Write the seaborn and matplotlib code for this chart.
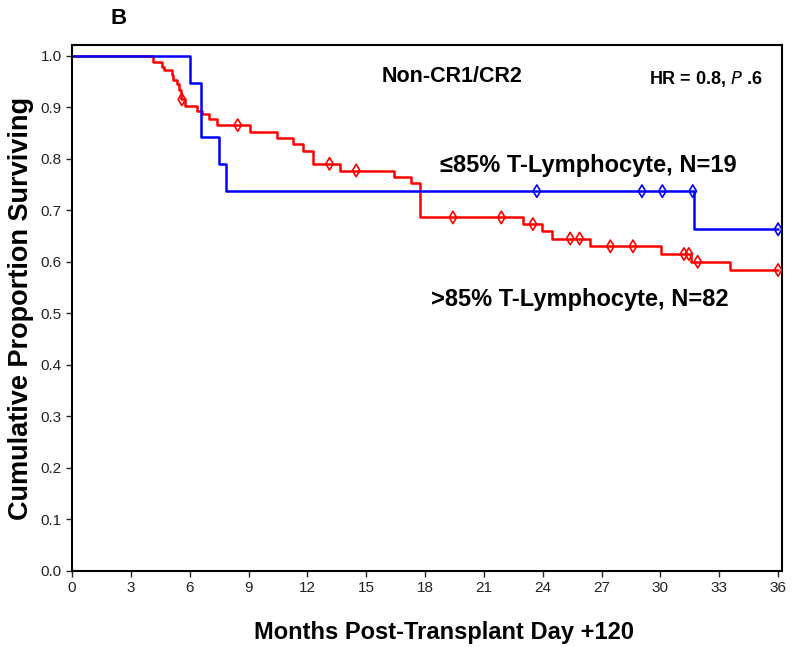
import pandas as pd
import matplotlib
matplotlib.use("Agg")
import matplotlib.pyplot as plt
import seaborn as sns
import numpy as np

sns.set_style("white")
plt.rcParams['font.family'] = ['Liberation Sans', 'DejaVu Sans']
plt.rcParams['text.color'] = 'black'
plt.rcParams['axes.labelcolor'] = 'black'

# Kaplan-Meier curves
# <=85% T-Lymphocyte (blue), N=19
blue_t = [0, 6.0, 6.57, 7.5, 7.86, 31.7, 36]
blue_s = [1.0, 0.947, 0.842, 0.789, 0.737, 0.663, 0.663]
blue_cens_t = [23.7, 29.06, 30.1, 31.65, 36]
blue_cens_s = [0.737, 0.737, 0.737, 0.737, 0.663]

# >85% T-Lymphocyte (red), N=82
red_t = [0, 4.15, 4.57, 4.69, 5.08, 5.17, 5.37, 5.48, 5.55, 5.77, 6.39, 6.62,
         7.0, 7.38, 9.08, 10.44, 11.26, 11.77, 12.31, 13.64, 16.43, 17.28,
         17.76, 23.0, 23.96, 24.47, 26.43, 30.03, 31.55, 33.55, 36]
red_s = [1.0, 0.988, 0.978, 0.972, 0.963, 0.952, 0.944, 0.934, 0.915, 0.903,
         0.893, 0.887, 0.877, 0.865, 0.852, 0.840, 0.828, 0.815, 0.790, 0.777,
         0.764, 0.753, 0.686, 0.673, 0.660, 0.645, 0.630, 0.615, 0.600, 0.584,
         0.584]
red_cens_t = [5.6, 8.45, 13.13, 14.49, 19.42, 21.89, 23.5, 25.4, 25.88,
              27.45, 28.6, 31.2, 31.45, 31.9, 36]
red_cens_s = [0.915, 0.865, 0.790, 0.777, 0.686, 0.686, 0.673, 0.645, 0.645,
              0.630, 0.630, 0.615, 0.615, 0.600, 0.584]

x_ticks = list(range(0, 37, 3))
y_ticks = [round(v * 0.1, 1) for v in range(0, 11)]

fig = plt.figure(figsize=(8, 6.47), dpi=100)
ax = fig.add_axes([0.09, 0.1175, 0.8875, 0.8125])

sns.lineplot(x=red_t, y=red_s, drawstyle='steps-post', color='#ff0000',
             linewidth=1.8, ax=ax)
sns.lineplot(x=blue_t, y=blue_s, drawstyle='steps-post', color='#0000ff',
             linewidth=1.8, ax=ax)
sns.scatterplot(x=red_cens_t, y=red_cens_s, marker='d', s=40,
                facecolors='none', edgecolor='#ff0000', linewidth=1.2, ax=ax,
                zorder=3)
sns.scatterplot(x=blue_cens_t, y=blue_cens_s, marker='d', s=40,
                facecolors='none', edgecolor='#0000ff', linewidth=1.2, ax=ax,
                zorder=3)

ax.set_xlim(0, 36.2)
ax.set_ylim(0, 1.02)
ax.set_xticks(x_ticks)
ax.set_yticks(y_ticks)
ax.set_xticklabels([str(t) for t in x_ticks])
ax.set_yticklabels([f"{t:.1f}" for t in y_ticks])
ax.tick_params(axis='both', direction='out', length=4, width=1,
               labelsize=11, labelcolor='#222222', bottom=True, left=True)
for sp in ax.spines.values():
    sp.set_linewidth(1.5)
    sp.set_color('black')

ax.set_xlabel('Months Post-Transplant Day +120', fontsize=17,
              fontweight='bold', va='center')
ax.xaxis.set_label_coords(0.524, -0.117)
ax.set_ylabel('Cumulative Proportion Surviving', fontsize=19.5,
              fontweight='bold', labelpad=5)

fig.text(0.148, 0.972, 'B', fontsize=16, fontweight='bold',
         ha='center', va='center')
ax.text(19.4, 0.96, 'Non-CR1/CR2', fontsize=15.5, fontweight='bold',
        ha='center', va='center')
ax.text(32.3, 0.955, 'HR = 0.8, $\\it{P}$ .6', fontsize=13,
        fontweight='bold', ha='center', va='center')
ax.text(26.3, 0.786, '≤85% T-Lymphocyte, N=19', fontsize=17,
        fontweight='bold', ha='center', va='center')
ax.text(25.9, 0.527, '>85% T-Lymphocyte, N=82', fontsize=17,
        fontweight='bold', ha='center', va='center')

fig.savefig('out.png', dpi=100)
